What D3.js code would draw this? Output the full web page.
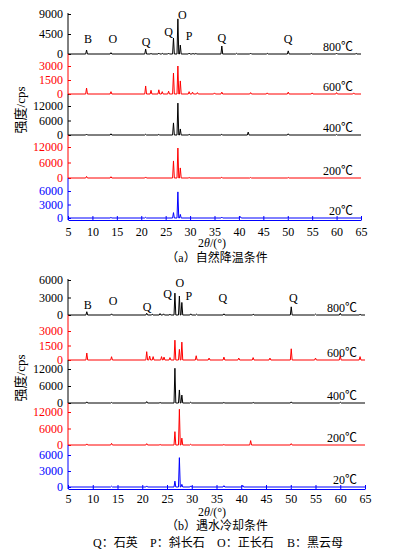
<!DOCTYPE html>
<html>
<head>
<meta charset="utf-8">
<script src="https://cdn.jsdelivr.net/npm/d3@7"></script>
<style>
body { margin: 0; background: #fff; }
text { font-family: "Liberation Serif", "Noto Sans CJK SC", serif; }
</style>
</head>
<body>
<div id="chart"></div>
<script>
// labels and ticks
var temps = ["800℃", "600℃", "400℃", "200℃", "20℃"];
var xTicks = [5, 10, 15, 20, 25, 30, 35, 40, 45, 50, 55, 60, 65];
var ticksA = [[0, 4500, 9000], [0, 1500, 3000], [0, 6000, 12000], [0, 6000, 12000], [0, 3000, 6000]];
var ticksB = [[0, 3000, 6000], [0, 1500, 3000], [0, 6000, 12000], [0, 6000, 12000], [0, 3000, 6000]];

// peaks [2theta, cps] - (a) natural cooling
var a800 = [[8.8, 900], [13.8, 300], [20.9, 1100], [22.0, 150], [23.6, 200], [24.3, 150], [25.6, 200], [26.6, 3600], [27.5, 7900], [28.0, 2000], [29.8, 200], [30.6, 150], [31.2, 150], [36.5, 1800], [39.5, 150], [42.4, 200], [45.8, 150], [50.1, 700], [54.8, 150], [60.0, 200], [64.0, 150]];
var a600 = [[8.8, 640], [13.8, 250], [20.9, 860], [22.0, 400], [23.6, 450], [24.3, 250], [25.6, 300], [26.6, 2250], [27.5, 3000], [28.0, 1400], [29.8, 250], [30.5, 200], [31.5, 150], [35.0, 120], [36.5, 200], [42.4, 150], [45.8, 120], [50.1, 200], [55.0, 120], [60.0, 150], [63.5, 120]];
var a400 = [[8.8, 400], [13.8, 500], [20.9, 300], [23.6, 250], [26.6, 5000], [27.5, 13200], [28.0, 2500], [29.8, 300], [36.5, 300], [41.9, 1200], [50.1, 500], [60.0, 250]];
var a200 = [[8.8, 600], [13.8, 500], [20.9, 400], [26.6, 6600], [27.5, 11600], [28.0, 3900], [29.8, 200], [36.5, 300], [42.4, 200], [50.1, 200]];
var a20 = [[13.8, 150], [20.9, 150], [26.6, 1200], [27.5, 5800], [28.0, 800], [36.5, 200], [40.3, 300], [50.1, 150]];

// (b) water cooling
var b800 = [[8.8, 560], [13.8, 200], [20.9, 300], [22.0, 150], [23.6, 250], [24.3, 200], [25.6, 150], [26.6, 3750], [27.5, 3250], [28.0, 2150], [29.8, 200], [31.0, 150], [36.5, 200], [42.4, 150], [50.1, 1400], [55.0, 150], [60.0, 300], [64.0, 150]];
var b600 = [[8.8, 720], [13.8, 340], [20.9, 860], [21.5, 400], [22.2, 350], [23.9, 350], [24.4, 300], [25.6, 250], [26.6, 2050], [27.5, 1100], [28.0, 1850], [30.9, 440], [33.5, 200], [36.5, 300], [39.5, 200], [42.4, 250], [45.8, 200], [50.1, 1160], [55.0, 200], [60.0, 450], [64.0, 350]];
var b400 = [[8.8, 400], [13.8, 200], [20.9, 500], [23.6, 200], [26.6, 12250], [27.5, 4600], [28.0, 2800], [29.8, 300], [36.5, 200], [42.4, 200], [50.1, 400], [60.0, 300]];
var b200 = [[8.8, 400], [13.8, 600], [20.9, 500], [23.6, 200], [26.6, 4850], [27.5, 13000], [28.0, 2500], [29.8, 300], [36.5, 200], [41.9, 1600], [50.1, 500]];
var b20 = [[13.8, 150], [20.9, 200], [26.6, 1100], [27.5, 5500], [28.0, 500], [29.8, 200], [36.5, 250], [40.3, 300], [50.1, 150]];

// phase letters [letter, 2theta, cps on the 800 scale]
var phaseA = [["B", 9.1, 3375], ["O", 14.2, 3375], ["Q", 21.0, 2700], ["Q", 25.6, 4950], ["O", 28.4, 8775], ["P", 29.8, 4050], ["Q", 36.5, 3600], ["Q", 50.05, 3375]];
var phaseB = [["B", 9.0, 1710], ["O", 14.1, 2400], ["Q", 21.0, 1370], ["Q", 25.1, 3600], ["O", 27.6, 5470], ["P", 29.4, 3250], ["Q", 36.3, 2900], ["Q", 50.5, 2900]];

var legend = ["Q：石英", "P：斜长石", "O：正长石", "B：黑云母"];

var colors = ["#000", "#f00", "#000", "#f00", "#00f"];

var svg = d3.select("#chart").append("svg")
    .attr("width", 399)
    .attr("height", 556);

function drawFigure(cfg) {
    var g = svg.append("g");
    var x = d3.scaleLinear().domain([5, 65]).range([cfg.x0, cfg.x1]);

    cfg.series.forEach(function(peaks, i) {
        var ticks = cfg.ticks[i];
        var y = d3.scaleLinear().domain([0, ticks[2]]).range([cfg.zero[i], cfg.top[i]]);
        if (i == 0) cfg.y800 = y;

        // spectrum: baseline with a spike at each peak
        var pts = [[5, 0]];
        peaks.slice().sort((a, b) => a[0] - b[0]).forEach(function(p) {
            pts.push([p[0] - 0.18, 0], [p[0], p[1]], [p[0] + 0.18, 0]);
        });
        pts.push([65, 0]);
        g.append("path")
            .datum(pts)
            .attr("fill", "none")
            .attr("stroke", colors[i])
            .attr("stroke-width", 1)
            .attr("d", d3.line().x(d => x(d[0])).y(d => y(d[1])));

        // left axis, one piece per pattern
        var ax = g.append("g")
            .attr("transform", "translate(" + cfg.x0 + ",0)")
            .call(d3.axisLeft(y).tickValues(ticks).tickFormat(d3.format("d"))
                .tickSizeInner(-3).tickSizeOuter(0).tickPadding(5));
        ax.select(".domain").remove();
        ax.selectAll("line").attr("stroke", colors[i]);
        ax.selectAll("text")
            .attr("fill", colors[i])
            .style("font-size", "12px");
        var upper = i == 0 ? cfg.top[0] - 1 : cfg.zero[i - 1];
        g.append("line")
            .attr("x1", cfg.x0).attr("x2", cfg.x0)
            .attr("y1", upper).attr("y2", i == 4 ? cfg.axisY : cfg.zero[i])
            .attr("stroke", colors[i]);

        g.append("text")
            .attr("x", cfg.x1 - 8)
            .attr("y", cfg.zero[i] - 7)
            .attr("text-anchor", "end")
            .attr("dominant-baseline", "central")
            .style("font-size", "12px")
            .text(temps[i]);
    });

    // phase letters
    g.selectAll(".phase")
        .data(cfg.phase)
        .enter().append("text")
        .attr("x", d => x(d[1]))
        .attr("y", d => cfg.y800(d[2]))
        .attr("text-anchor", "middle")
        .attr("dominant-baseline", "central")
        .style("font-size", "12px")
        .text(d => d[0]);

    var xa = g.append("g")
        .attr("transform", "translate(0," + cfg.axisY + ")")
        .call(d3.axisBottom(x).tickValues(xTicks).tickSizeInner(-4).tickSizeOuter(0).tickPadding(cfg.pad));
    xa.selectAll("line, path").attr("stroke", "#00f");
    xa.selectAll("text").attr("fill", "#000").style("font-size", "12px");

    var lab = g.append("text")
        .attr("x", 212)
        .attr("y", cfg.axisY + 23)
        .attr("text-anchor", "middle")
        .attr("dominant-baseline", "central")
        .style("font-size", "12px");
    lab.append("tspan").text("2");
    lab.append("tspan").attr("font-style", "italic").text("θ");
    lab.append("tspan").text("/(°)");

    g.append("text")
        .attr("x", 217)
        .attr("y", cfg.titleY)
        .attr("text-anchor", "middle")
        .attr("dominant-baseline", "central")
        .style("font-size", "12px")
        .text(cfg.title);

    g.append("text")
        .attr("transform", "translate(20," + cfg.ylabY + ") rotate(-90)")
        .attr("text-anchor", "middle")
        .attr("dominant-baseline", "central")
        .style("font-size", "13px")
        .text("强度/cps");
}

drawFigure({
    series: [a800, a600, a400, a200, a20], ticks: ticksA, phase: phaseA,
    x0: 68, x1: 361, axisY: 220, pad: 7,
    zero: [54, 94, 135, 178, 218], top: [14, 66, 106, 147, 191],
    title: "（a）自然降温条件", titleY: 258, ylabY: 110
});
drawFigure({
    series: [b800, b600, b400, b200, b20], ticks: ticksB, phase: phaseB,
    x0: 68, x1: 365, axisY: 489, pad: 5,
    zero: [315, 360, 403, 445, 487], top: [280, 331, 369, 412, 455],
    title: "（b）遇水冷却条件", titleY: 526, ylabY: 378
});

var legX = [93, 150, 217, 287];
svg.selectAll(".leg")
    .data(legend)
    .enter().append("text")
    .attr("x", (d, i) => legX[i])
    .attr("y", 543)
    .attr("dominant-baseline", "central")
    .style("font-size", "12px")
    .text(d => d);
</script>
</body>
</html>
